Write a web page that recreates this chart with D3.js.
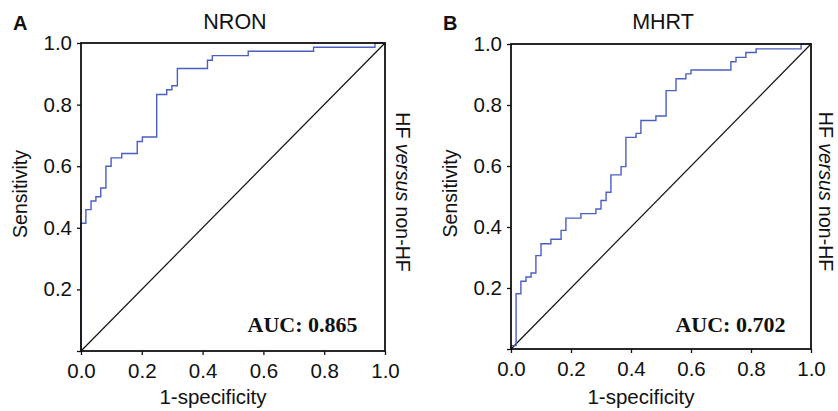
<!DOCTYPE html>
<html lang="en">
<head>
<meta charset="UTF-8">
<title>ROC curves</title>
<script src="https://d3js.org/d3.v7.min.js"></script>
<style>
    body { margin: 0; background: #fff; }
    svg text { font-family: "Liberation Sans", Arial, sans-serif; fill: #111; }
    .auc { font-family: "Liberation Serif", "Times New Roman", serif; font-weight: bold; }
</style>
</head>
<body>
<svg id="canvas" width="838" height="411"></svg>
<script>
// ROC step points (1-specificity, sensitivity)
let nronFpr = [0, 0, 0.016, 0.033, 0.049, 0.065, 0.082, 0.099, 0.134, 0.185, 0.202, 0.249, 0.282, 0.299, 0.317, 0.416, 0.432, 0.550, 0.765, 0.967, 1.0];
let nronTpr = [0, 0.415, 0.459, 0.487, 0.501, 0.529, 0.600, 0.627, 0.641, 0.680, 0.695, 0.833, 0.848, 0.861, 0.917, 0.944, 0.959, 0.973, 0.986, 1.0, 1.0];

let mhrtFpr = [0, 0, 0.017, 0.033, 0.05, 0.067, 0.083, 0.1, 0.133, 0.167, 0.183, 0.233, 0.283, 0.3, 0.317, 0.333, 0.367, 0.383, 0.417, 0.433, 0.483, 0.517, 0.55, 0.583, 0.6, 0.733, 0.75, 0.783, 0.817, 0.967, 1.0];
let mhrtTpr = [0, 0.011, 0.181, 0.222, 0.236, 0.249, 0.306, 0.345, 0.360, 0.389, 0.429, 0.444, 0.459, 0.487, 0.514, 0.571, 0.598, 0.694, 0.707, 0.749, 0.764, 0.847, 0.886, 0.902, 0.915, 0.942, 0.956, 0.972, 0.984, 1.0, 1.0];

let ticks = [0, 0.2, 0.4, 0.6, 0.8, 1.0];
let panels = [
    {letter: "A", title: "NRON", auc: "AUC: 0.865", fpr: nronFpr, tpr: nronTpr},
    {letter: "B", title: "MHRT", auc: "AUC: 0.702", fpr: mhrtFpr, tpr: mhrtTpr}
];

// plot boxes for each panel
let boxes = [
    {x0: 81, x1: 385, y0: 43, y1: 351, side: 396},
    {x0: 511, x1: 811, y0: 44, y1: 349, side: 819}
];

let svg = d3.select('#canvas');

panels.forEach(function (p, i) {
    let b = boxes[i];
    let x = d3.scaleLinear().domain([0, 1]).range([b.x0, b.x1]);
    let y = d3.scaleLinear().domain([0, 1]).range([b.y1, b.y0]);
    let g = svg.append('g');

    // y axis
    let ya = g.append('g')
        .attr('transform', 'translate(' + b.x0 + ',0)')
        .call(d3.axisLeft(y).tickValues(ticks).tickSize(4).tickPadding(5)
            .tickFormat(function (d) { return d === 0 ? "" : d3.format(".1f")(d); }));
    // x axis
    let xa = g.append('g')
        .attr('transform', 'translate(0,' + b.y1 + ')')
        .call(d3.axisBottom(x).tickValues(ticks).tickSize(4).tickPadding(8)
            .tickFormat(d3.format(".1f")));
    [ya, xa].forEach(function (a) {
        a.select('.domain').remove();
        a.selectAll('line').attr('stroke', '#111').attr('stroke-width', 1.3);
        a.selectAll('text').attr('font-size', 20.5).attr('fill', '#111')
            .attr('font-family', '"Liberation Sans", Arial, sans-serif');
    });

    // chance line
    g.append('line')
        .attr('x1', x(0)).attr('y1', y(0)).attr('x2', x(1)).attr('y2', y(1))
        .attr('stroke', '#111').attr('stroke-width', 1.2);

    // ROC curve
    let pts = p.fpr.map(function (f, k) { return [f, p.tpr[k]]; });
    let line = d3.line()
        .x(function (d) { return x(d[0]); })
        .y(function (d) { return y(d[1]); })
        .curve(d3.curveStepAfter);
    g.append('path')
        .attr('d', line(pts))
        .attr('fill', 'none').attr('stroke', '#4b5fc2').attr('stroke-width', 1.4);

    // frame on top of the curve
    g.append('rect')
        .attr('x', b.x0).attr('y', b.y0)
        .attr('width', b.x1 - b.x0).attr('height', b.y1 - b.y0)
        .attr('fill', 'none').attr('stroke', '#111').attr('stroke-width', 1.8);

    // texts
    g.append('text').text(p.letter)
        .attr('x', b.x0 - 68).attr('y', 30)
        .attr('font-size', 20).attr('font-weight', 'bold');
    g.append('text').text(p.title)
        .attr('x', (b.x0 + b.x1) / 2 + 2).attr('y', 29)
        .attr('text-anchor', 'middle').attr('font-size', 21.5);
    g.append('text').text('Sensitivity')
        .attr('transform', 'translate(' + (b.x0 - 54) + ',' + ((b.y0 + b.y1) / 2 - 3) + ') rotate(-90)')
        .attr('text-anchor', 'middle').attr('font-size', 19.5);
    g.append('text').text('1-specificity')
        .attr('x', (b.x0 + b.x1) / 2 - 20).attr('y', 404)
        .attr('text-anchor', 'middle').attr('font-size', 20.5);
    let side = g.append('text')
        .attr('transform', 'translate(' + b.side + ',' + ((b.y0 + b.y1) / 2 - 5) + ') rotate(90)')
        .attr('text-anchor', 'middle').attr('font-size', 19.5);
    side.append('tspan').text('HF ');
    side.append('tspan').text('versus').attr('font-style', 'italic');
    side.append('tspan').text(' non-HF');
    g.append('text').text(p.auc).attr('class', 'auc')
        .attr('x', x(0.548)).attr('y', 332)
        .attr('font-size', 22).attr('fill', '#111');
});
</script>
</body>
</html>
